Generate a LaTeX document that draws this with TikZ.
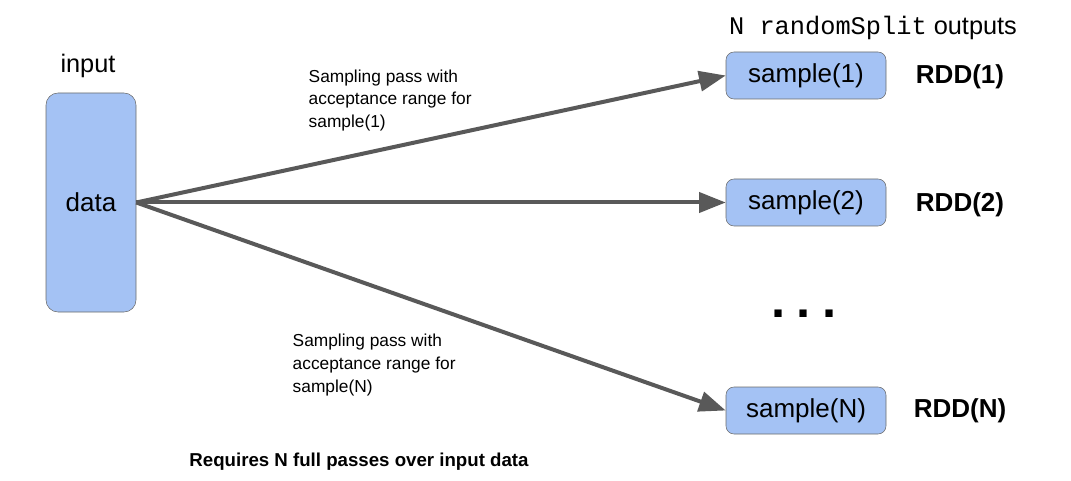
\documentclass[tikz,border=0pt]{standalone}
\usepackage{fontspec}
\setmainfont{Liberation Sans}
\setmonofont{Liberation Mono}
\usetikzlibrary{arrows.meta}
\definecolor{boxblue}{HTML}{A4C2F4}
\definecolor{boxline}{HTML}{6B6B6B}
\definecolor{flowgray}{HTML}{595959}

\begin{document}
\begin{tikzpicture}[x=0.75pt,y=-0.75pt,
    samplebox/.style={draw=boxline,fill=boxblue,rounded corners=6pt,minimum width=120pt,minimum height=35.25pt,font=\fontsize{19.5}{23}\selectfont},
    flow/.style={draw=flowgray,line width=3pt,-{Triangle[length=20pt,width=15pt]}},
    note/.style={anchor=west,align=left,font=\fontsize{13}{17}\selectfont},
    rdd/.style={font=\fontsize{19.5}{23}\selectfont\bfseries}]
\useasboundingbox (0,0) rectangle (1071,481);
\node[font=\fontsize{19}{23}\selectfont] (input) at (88,66) {input};
\node[draw=boxline,fill=boxblue,rounded corners=9pt,minimum width=67.5pt,minimum height=164.25pt,font=\fontsize{19.5}{23}\selectfont] (data) at (91,202.5) {\raisebox{-1.5pt}{data}};
\node[font=\fontsize{19}{23}\selectfont] (head) at (873,28) {\ttfamily N randomSplit\rmfamily{} outputs};
\node[samplebox] (s1) at (806,75.5) {sample(1)};
\node[samplebox] (s2) at (806,202.5) {sample(2)};
\node[samplebox] (sn) at (806,410.5) {sample(N)};
\node[rdd] (r1) at (960,77) {RDD(1)};
\node[rdd] (r2) at (960,205) {RDD(2)};
\node[rdd] (rn) at (960,411) {RDD(N)};
\node[font=\fontsize{38}{42}\selectfont\bfseries] (dots) at (804,314) {.\hspace{8.5pt}.\hspace{8.5pt}.};
\node[note] (pass1) at (304,100.5) {Sampling pass with\\acceptance range for\\sample(1)};
\node[note] (passn) at (288,365) {Sampling pass with\\acceptance range for\\sample(N)};
\node[font=\fontsize{14}{17}\selectfont\bfseries] (foot) at (359,462) {Requires N full passes over input data};
\foreach\t in {s1,s2,sn}{
    \draw[flow] (data.east) -- (\t.west);
}
\end{tikzpicture}
\end{document}
